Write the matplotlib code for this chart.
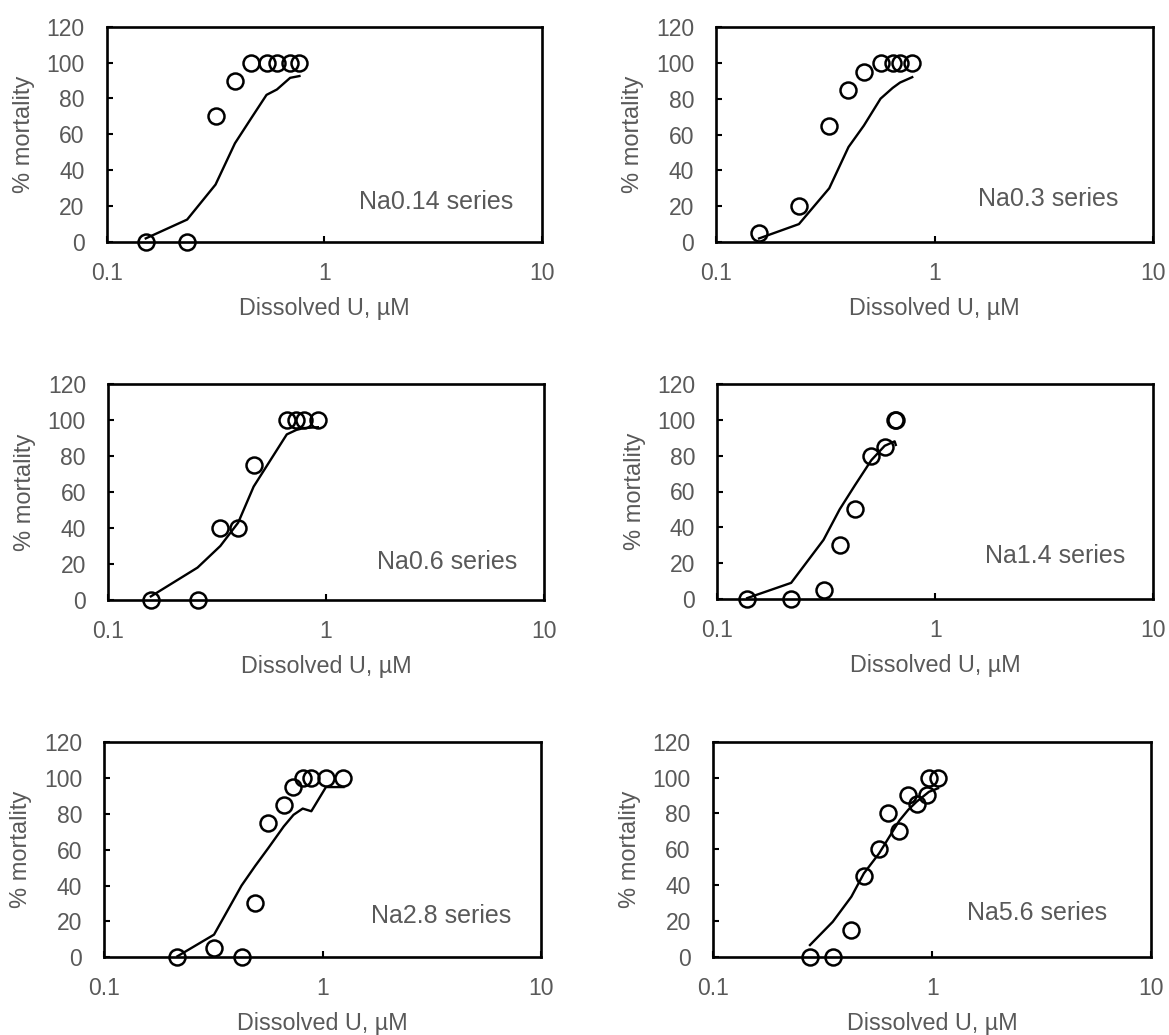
import matplotlib
matplotlib.use("Agg")
import matplotlib.pyplot as plt

plt.rcParams['font.family'] = ['Liberation Sans', 'DejaVu Sans']

# ---------------- data ----------------
series_names = ["Na0.14 series", "Na0.3 series", "Na0.6 series",
                "Na1.4 series", "Na2.8 series", "Na5.6 series"]

u_na014 = [0.151, 0.234, 0.316, 0.388, 0.461, 0.542, 0.605, 0.696, 0.768]
obs_na014 = [0, 0, 70, 90, 100, 100, 100, 100, 100]
mod_na014 = [2, 12.5, 32, 55, 69, 82, 85, 91.5, 92.5]

u_na03 = [0.157, 0.239, 0.329, 0.403, 0.474, 0.565, 0.642, 0.694, 0.789]
obs_na03 = [5, 20, 65, 85, 95, 100, 100, 100, 100]
mod_na03 = [2, 10, 30, 53, 65, 80, 86, 89, 92]

u_na06 = [0.157, 0.257, 0.327, 0.395, 0.465, 0.660, 0.731, 0.788, 0.917]
obs_na06 = [0, 0, 40, 40, 75, 100, 100, 100, 100]
mod_na06 = [2, 18, 30, 43, 63, 92, 94.5, 95.5, 96]

u_na14 = [0.137, 0.218, 0.307, 0.364, 0.428, 0.509, 0.586, 0.651, 0.659]
obs_na14 = [0, 0, 5, 30, 50, 80, 85, 100, 100]
mod_na14 = [0.5, 9, 33, 50, 63.5, 77.5, 85.5, 88, 86]

u_na28 = [0.216, 0.318, 0.425, 0.491, 0.564, 0.663, 0.735, 0.810, 0.887, 1.035, 1.245]
obs_na28 = [0, 5, 0, 30, 75, 85, 95, 100, 100, 100, 100]
mod_na28 = [0.5, 12.6, 40, 51, 61, 73, 79.5, 83, 81.5, 95, 95]

u_na56 = [0.277, 0.352, 0.428, 0.488, 0.573, 0.631, 0.709, 0.778, 0.849, 0.944, 0.966, 1.064]
obs_na56 = [0, 0, 15, 45, 60, 80, 70, 90, 85, 90, 100, 100]
mod_na56 = [6.5, 19.5, 33.5, 46.5, 57.7, 66, 76, 82, 86.5, 91, 92, 94]

x_ticks = [0.1, 1, 10]
x_tick_labels = ["0.1", "1", "10"]
y_ticks = [0, 20, 40, 60, 80, 100, 120]
x_label = "Dissolved U, µM"
y_label = "% mortality"

panels = [
    (u_na014, obs_na014, mod_na014),
    (u_na03, obs_na03, mod_na03),
    (u_na06, obs_na06, mod_na06),
    (u_na14, obs_na14, mod_na14),
    (u_na28, obs_na28, mod_na28),
    (u_na56, obs_na56, mod_na56),
]

# ---------------- layout (pixels: left, right, top, bottom) ----------------
W, H = 1169, 1035
boxes = [
    (106.8, 542.0, 26.7, 242.0),
    (716.3, 1153.1, 27.0, 242.0),
    (108.2, 544.0, 384.0, 600.0),
    (717.4, 1153.1, 384.0, 599.0),
    (104.3, 541.1, 742.3, 957.2),
    (713.0, 1151.3, 741.7, 956.7),
]
label_pos = [(0.934, 0.186), (0.921, 0.20), (0.939, 0.176),
             (0.936, 0.20), (0.931, 0.19), (0.899, 0.205)]

gray = "#595959"
fig = plt.figure(figsize=(W / 100, H / 100), dpi=100)

for (u, obs, mod), (l, r, t, b), name, (tx, ty) in zip(panels, boxes, series_names, label_pos):
    ax = fig.add_axes([l / W, 1 - b / H, (r - l) / W, (b - t) / H])
    ax.set_xscale("log")
    ax.plot(u, mod, color="black", lw=1.7, zorder=3, clip_on=False)
    ax.plot(u, obs, linestyle="none", marker="o", markersize=11.5,
            markerfacecolor="none", markeredgecolor="black",
            markeredgewidth=1.8, zorder=4, clip_on=False)
    ax.set_xlim(0.1, 10)
    ax.set_ylim(0, 120)
    ax.set_xticks(x_ticks)
    ax.set_xticklabels(x_tick_labels)
    ax.xaxis.set_minor_locator(matplotlib.ticker.NullLocator())
    ax.set_yticks(y_ticks)
    ax.tick_params(axis="both", direction="in", length=4, width=1.5,
                   colors="black", labelcolor=gray, labelsize=16.5)
    ax.tick_params(axis="x", pad=14.5)
    ax.tick_params(axis="y", pad=16)
    for sp in ax.spines.values():
        sp.set_linewidth(1.9)
        sp.set_color("black")
    ax.set_xlabel(x_label, fontsize=16.8, color=gray)
    ax.set_ylabel(y_label, fontsize=17, color=gray)
    ax.xaxis.set_label_coords(0.5, -0.255)
    ax.yaxis.set_label_coords(-0.165, 0.5)
    ax.text(tx, ty, name, transform=ax.transAxes, ha="right", va="center",
            fontsize=18, color=gray)

fig.savefig("out.png", dpi=100)
